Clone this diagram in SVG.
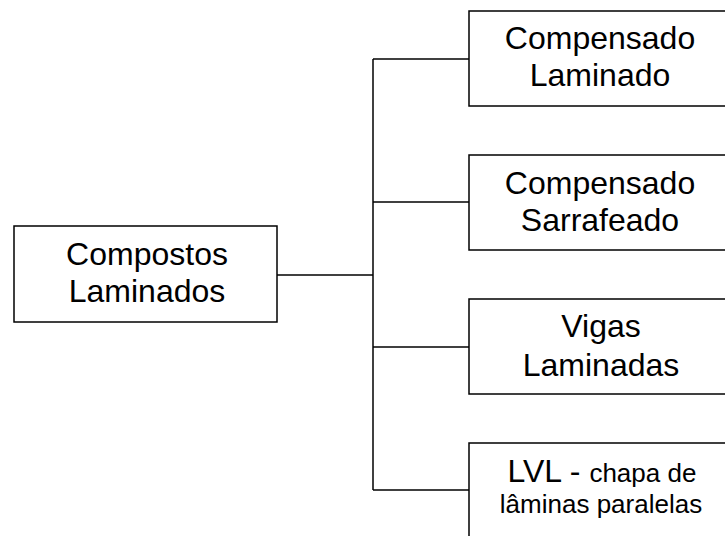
<svg xmlns="http://www.w3.org/2000/svg" width="725" height="536" viewBox="0 0 725 536">
<style>
  .box { fill: #ffffff; stroke: #000000; stroke-width: 1.5; }
  .conn { fill: none; stroke: #000000; stroke-width: 1.5; }
  text { font-family: "Liberation Sans", Arial, sans-serif; font-size: 32px; fill: #000000; text-anchor: middle; }
  .small { font-size: 26px; }
</style>
<rect width="725" height="536" fill="#ffffff"/>
<g id="connectors">
  <path class="conn" d="M277 275 H373"/>
  <path class="conn" d="M373 59 V490"/>
  <path class="conn" d="M373 59 H469"/>
  <path class="conn" d="M373 202 H469"/>
  <path class="conn" d="M373 347 H469"/>
  <path class="conn" d="M373 490 H469"/>
</g>
<g id="node-compostos">
  <rect class="box" x="14" y="226" width="263" height="96"/>
  <text x="147" y="265">Compostos</text>
  <text x="147" y="302">Laminados</text>
</g>
<g id="node-compensado-laminado">
  <rect class="box" x="469" y="11" width="264" height="95"/>
  <text x="600" y="49">Compensado</text>
  <text x="600" y="86">Laminado</text>
</g>
<g id="node-compensado-sarrafeado">
  <rect class="box" x="469" y="155" width="264" height="95"/>
  <text x="600" y="194">Compensado</text>
  <text x="600" y="231">Sarrafeado</text>
</g>
<g id="node-vigas">
  <rect class="box" x="469" y="299" width="264" height="95"/>
  <text x="601" y="337">Vigas</text>
  <text x="601" y="376">Laminadas</text>
</g>
<g id="node-lvl">
  <rect class="box" x="469" y="443" width="264" height="110"/>
  <text x="602" y="482">LVL - <tspan class="small">chapa de</tspan></text>
  <text class="small" x="601" y="513">lâminas paralelas</text>
</g>
</svg>
